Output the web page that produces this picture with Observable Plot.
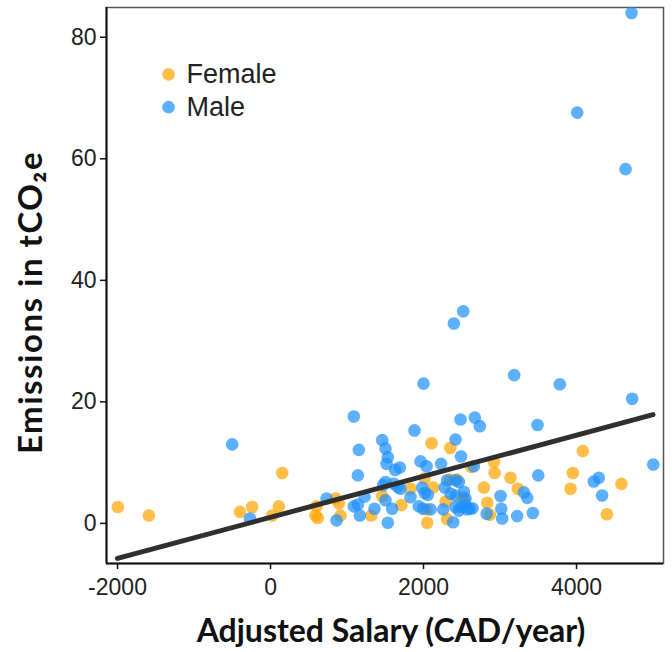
<!DOCTYPE html>
<html>
<head>
<meta charset="utf-8">
<script src="https://cdn.jsdelivr.net/npm/d3@7"></script>
<script src="https://cdn.jsdelivr.net/npm/@observablehq/plot@0.6"></script>
<style>
  html, body { margin: 0; padding: 0; background: #fff; }
  #chart svg { display: block; }
</style>
</head>
<body>
<div id="chart"></div>
<script>
// ---- data ----
const groups = ["Female", "Male"];
const groupColors = ["#FFA500", "#1E90FF"];

const femaleX = [-1996, -1590, -400, -240, 153, 109, 22, 601, 588, 618, 850, 893, 915, 1316, 1460, 1710, 1830, 2013, 2126, 2105, 2350, 2039, 2048, 2288, 2309, 2344, 2440, 2505, 2536, 2624, 2920, 2929, 2789, 2833, 2867, 3137, 3233, 3952, 3922, 4083, 4588, 4397];
const femaleY = [2.7, 1.3, 1.9, 2.7, 8.3, 2.8, 1.3, 2.8, 1.3, 0.9, 4.1, 3.3, 1.3, 1.3, 4.5, 3.0, 5.7, 7.4, 5.9, 13.2, 12.4, 2.3, 0.1, 3.6, 0.7, 7.2, 7.2, 4.3, 3.8, 9.3, 10.1, 8.3, 5.9, 3.4, 1.4, 7.5, 5.7, 8.3, 5.7, 11.9, 6.5, 1.5];

const maleX = [-501, -270, 732, 863, 1089, 1155, 1142, 1089, 1142, 1168, 1230, 1359, 1460, 1503, 1533, 1516, 1630, 1690, 1503, 1473, 1664, 1503, 1590, 1533, 1612, 1699, 1830, 1882, 2000, 1961, 2039, 2230, 1983, 2278, 2056, 1939, 2092, 2257, 2388, 2309, 2418, 2462, 2353, 2418, 2527, 2549, 2418, 2462, 2493, 2549, 2571, 2640, 2605, 2658, 2418, 2490, 2484, 2671, 2736, 2397, 2519, 3185, 3782, 4727, 3490, 5003, 3500, 4291, 4226, 4335, 3429, 3224, 3028, 3016, 3007, 3312, 3356, 2825, 1996, 2017, 4719, 4009, 4641];
const maleY = [13.0, 0.8, 4.1, 0.5, 17.6, 12.1, 7.9, 2.8, 3.1, 1.3, 4.4, 2.4, 13.7, 12.3, 10.9, 9.8, 8.8, 9.2, 6.8, 6.3, 6.0, 3.8, 2.4, 0.1, 6.5, 5.7, 4.3, 15.3, 23.0, 10.2, 9.4, 9.8, 5.9, 5.9, 4.7, 2.8, 2.3, 2.3, 0.2, 7.1, 7.1, 6.8, 4.9, 4.6, 5.2, 4.1, 2.7, 2.1, 2.7, 3.0, 2.3, 2.5, 2.4, 9.4, 13.8, 11.0, 17.1, 17.4, 16.0, 32.9, 34.9, 24.4, 22.9, 20.5, 16.2, 9.7, 7.9, 7.5, 6.9, 4.6, 1.7, 1.2, 0.8, 2.4, 4.5, 5.1, 4.2, 1.6, 2.4, 5.0, 84.0, 67.6, 58.3];

// fitted line: y = intercept + slope * x
const fitIntercept = 1.0;
const fitSlope = 0.00338;
const fitRange = [-2000, 5000];

const xTicks = [-2000, 0, 2000, 4000];
const yTicks = [0, 20, 40, 60, 80];
const xDomain = [-2144, 5137];
const yDomain = [-6.6, 84.9];

const xLabel = "Adjusted Salary (CAD/year)";
const yLabel = "Emissions in tCO\u2082e";

// legend placement in data units
const legendX = -1333;
const legendY = [73.9, 68.5];

// ---- build tables ----
const points = [
  ...femaleX.map((x, i) => ({x, y: femaleY[i], g: "Female"})),
  ...maleX.map((x, i) => ({x, y: maleY[i], g: "Male"}))
];
const fit = fitRange.map(x => ({x, y: fitIntercept + fitSlope * x}));
const legend = groups.map((g, i) => ({g, x: legendX, y: legendY[i]}));

const tickFont = "'Liberation Sans', Arial, sans-serif";
const titleFont = "Lato, 'Open Sans', sans-serif";

const chart = Plot.plot({
  width: 672,
  height: 652,
  marginLeft: 106,
  marginRight: 9,
  marginTop: 7,
  marginBottom: 89,
  style: {background: "#fff", color: "#222", fontFamily: tickFont},
  x: {domain: xDomain},
  y: {domain: yDomain},
  color: {domain: groups, range: groupColors},
  marks: [
    Plot.frame({stroke: "#555", strokeWidth: 1.5}),
    Plot.ruleX([xDomain[0]], {stroke: "#111", strokeWidth: 2}),
    Plot.ruleY([yDomain[0]], {stroke: "#111", strokeWidth: 2}),
    Plot.axisX({ticks: xTicks, tickSize: 6, tickPadding: 9, fontSize: 23, tickFormat: d => String(d), label: null, stroke: "#111", strokeWidth: 1.5, fill: "#222"}),
    Plot.axisY({ticks: yTicks, tickSize: 6, tickPadding: 4, fontSize: 23, tickFormat: d => String(d), label: null, stroke: "#111", strokeWidth: 1.5, fill: "#222"}),
    Plot.dot(points, {x: "x", y: "y", fill: "g", r: 6.3, fillOpacity: 0.72}),
    Plot.line(fit, {x: "x", y: "y", stroke: "#2f2f2f", strokeWidth: 5}),
    Plot.dot(legend, {x: "x", y: "y", fill: "g", r: 6.3, fillOpacity: 0.72}),
    Plot.text(legend, {x: "x", y: "y", text: "g", dx: 18, textAnchor: "start", fontSize: 27, fill: "#222", fontFamily: tickFont}),
    Plot.text([xLabel], {frameAnchor: "bottom", textAnchor: "middle", dx: 6, dy: 78, fontSize: 32, fontWeight: "bold", fill: "#111", fontFamily: titleFont}),
    Plot.text([yLabel], {frameAnchor: "left", textAnchor: "middle", lineAnchor: "middle", dx: -75, dy: 17, rotate: -90, fontSize: 33, fontWeight: "bold", fill: "#111", fontFamily: titleFont})
  ]
});

// slight letter spacing on the vertical title to match its length
d3.select(chart).selectAll("text")
  .filter(function () { return this.textContent === yLabel; })
  .style("letter-spacing", "1.5px");

document.getElementById("chart").append(chart);
</script>
</body>
</html>
